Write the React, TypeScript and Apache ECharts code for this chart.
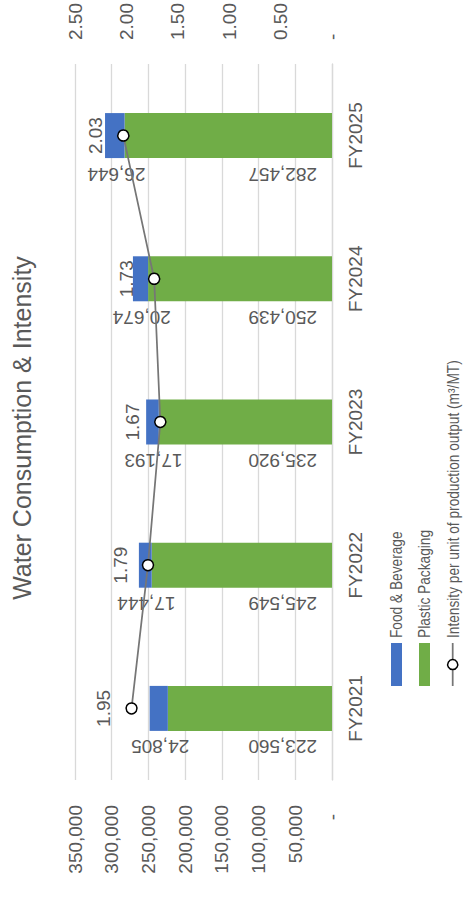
import React, { useEffect, useRef } from "react";
import * as echarts from "echarts";

const categories = ["FY2021", "FY2022", "FY2023", "FY2024", "FY2025"];
const foodBeverage = [24805, 17444, 17193, 20674, 26644];
const plasticPackaging = [223560, 245549, 235920, 250439, 282457];
const intensity = [1.95, 1.79, 1.67, 1.73, 2.03];

const leftAxis = { min: 0, max: 350000, interval: 50000 };
const rightAxis = { min: 0, max: 2.5, interval: 0.5 };

const seriesNames = [
  "Food & Beverage",
  "Plastic Packaging",
  "Intensity per unit of production output (m³/MT)",
];
const titleText = "Water Consumption & Intensity";

const FONT = '"Liberation Sans", Arial, Helvetica, sans-serif';
const TXT = "#595959";
const GRID = "#d9d9d9";
const BLUE = "#4472C4";
const GREEN = "#70AD47";
const LINE = "#767676";
const FS = 19;

// chart is drawn in landscape (897x463) and rotated -90deg onto the 463x897 page
const W = 897;
const H = 463;

const fmtInt = (v: number) => Math.round(v).toLocaleString("en-US");

// legend (drawn as graphic so its text can be slightly narrowed)
const LEG_X = 211;
const LEG_W = 43;
const LEG_ROWS = [396.5, 424.5, 452.7];
const LEG_FS = 16.5;
const LEG_SCALE = 0.83;

export default function App() {
  const ref = useRef<HTMLDivElement>(null);
  useEffect(() => {
    if (!ref.current) return;
    const chart = echarts.init(ref.current, undefined, {
      renderer: "svg",
      width: W,
      height: H,
    });
    const legendText = (i: number) => ({
      type: "text",
      x: LEG_X + LEG_W + 5,
      y: LEG_ROWS[i],
      scaleX: LEG_SCALE,
      style: {
        text: seriesNames[i],
        align: "left",
        verticalAlign: "middle",
        fontSize: LEG_FS,
        fontFamily: FONT,
        fill: TXT,
      },
    });
    const option: any = {
      animation: false,
      textStyle: { fontFamily: FONT },
      graphic: [
        {
          type: "text",
          x: 469,
          y: 22,
          style: {
            text: titleText,
            align: "center",
            verticalAlign: "middle",
            fontSize: 25,
            fontFamily: FONT,
            fill: TXT,
          },
        },
        {
          type: "rect",
          shape: { x: LEG_X, y: LEG_ROWS[0] - 5.5, width: LEG_W, height: 11 },
          style: { fill: BLUE },
        },
        {
          type: "rect",
          shape: { x: LEG_X, y: LEG_ROWS[1] - 5.5, width: LEG_W, height: 11 },
          style: { fill: GREEN },
        },
        {
          type: "line",
          shape: { x1: LEG_X, y1: LEG_ROWS[2], x2: LEG_X + LEG_W, y2: LEG_ROWS[2] },
          style: { stroke: LINE, lineWidth: 1.75 },
        },
        {
          type: "circle",
          z: 10,
          shape: { cx: LEG_X + LEG_W / 2, cy: LEG_ROWS[2], r: 5 },
          style: { fill: "#ffffff", stroke: "#000000", lineWidth: 1.5 },
        },
        legendText(0),
        legendText(1),
        legendText(2),
      ],
      grid: { left: 117, right: 63, top: 75, bottom: 131, containLabel: false },
      xAxis: {
        type: "category",
        data: categories,
        axisTick: { show: false },
        axisLine: { lineStyle: { color: GRID, width: 1.3 } },
        axisLabel: { fontSize: FS, color: TXT, margin: 14, fontFamily: FONT },
      },
      yAxis: [
        {
          type: "value",
          ...leftAxis,
          axisLine: { show: false },
          axisTick: { show: false },
          splitLine: { lineStyle: { color: GRID, width: 1.3 } },
          axisLabel: {
            fontSize: FS,
            color: TXT,
            margin: 25,
            fontFamily: FONT,
            formatter: (v: number) => (v === 0 ? "{z|-}" : fmtInt(v)),
            rich: {
              z: { fontSize: FS, color: TXT, fontFamily: FONT, padding: [0, 9, 0, 0] },
            },
          },
        },
        {
          type: "value",
          ...rightAxis,
          axisLine: { show: false },
          axisTick: { show: false },
          splitLine: { show: false },
          axisLabel: {
            fontSize: FS,
            color: TXT,
            margin: 24,
            fontFamily: FONT,
            formatter: (v: number) => (v === 0 ? "-" : v.toFixed(2)),
          },
        },
      ],
      series: [
        {
          name: seriesNames[1],
          type: "bar",
          stack: "water",
          barWidth: 45,
          data: plasticPackaging,
          itemStyle: { color: GREEN },
          label: {
            show: true,
            rotate: 90,
            position: [-16, "100%"],
            align: "left",
            verticalAlign: "middle",
            padding: [0, 0, 0, 15],
            fontSize: FS,
            color: TXT,
            fontFamily: FONT,
            formatter: (p: any) => fmtInt(p.value),
          },
        },
        {
          name: seriesNames[0],
          type: "bar",
          stack: "water",
          barWidth: 45,
          data: foodBeverage,
          itemStyle: { color: BLUE },
          label: {
            show: true,
            rotate: 90,
            position: [-16, "58%"],
            align: "center",
            verticalAlign: "middle",
            fontSize: FS,
            color: TXT,
            fontFamily: FONT,
            formatter: (p: any) => fmtInt(p.value),
          },
        },
        {
          name: seriesNames[2],
          type: "line",
          yAxisIndex: 1,
          data: intensity,
          symbol: "circle",
          symbolSize: 11,
          z: 5,
          lineStyle: { color: LINE, width: 1.75 },
          itemStyle: { color: "#ffffff", borderColor: "#000000", borderWidth: 1.5 },
          label: {
            show: true,
            position: "top",
            distance: 12,
            fontSize: FS,
            color: TXT,
            fontFamily: FONT,
            formatter: (p: any) => p.value.toFixed(2),
          },
        },
      ],
    };
    chart.setOption(option);
    return () => chart.dispose();
  }, []);

  return (
    <div
      style={{
        position: "fixed",
        left: 0,
        top: 0,
        width: H,
        height: W,
        overflow: "hidden",
        background: "#fff",
      }}
    >
      <div
        ref={ref}
        style={{
          position: "absolute",
          left: 0,
          top: 0,
          width: W,
          height: H,
          transformOrigin: "0 0",
          transform: `translate(0px, ${W}px) rotate(-90deg)`,
        }}
      />
    </div>
  );
}
